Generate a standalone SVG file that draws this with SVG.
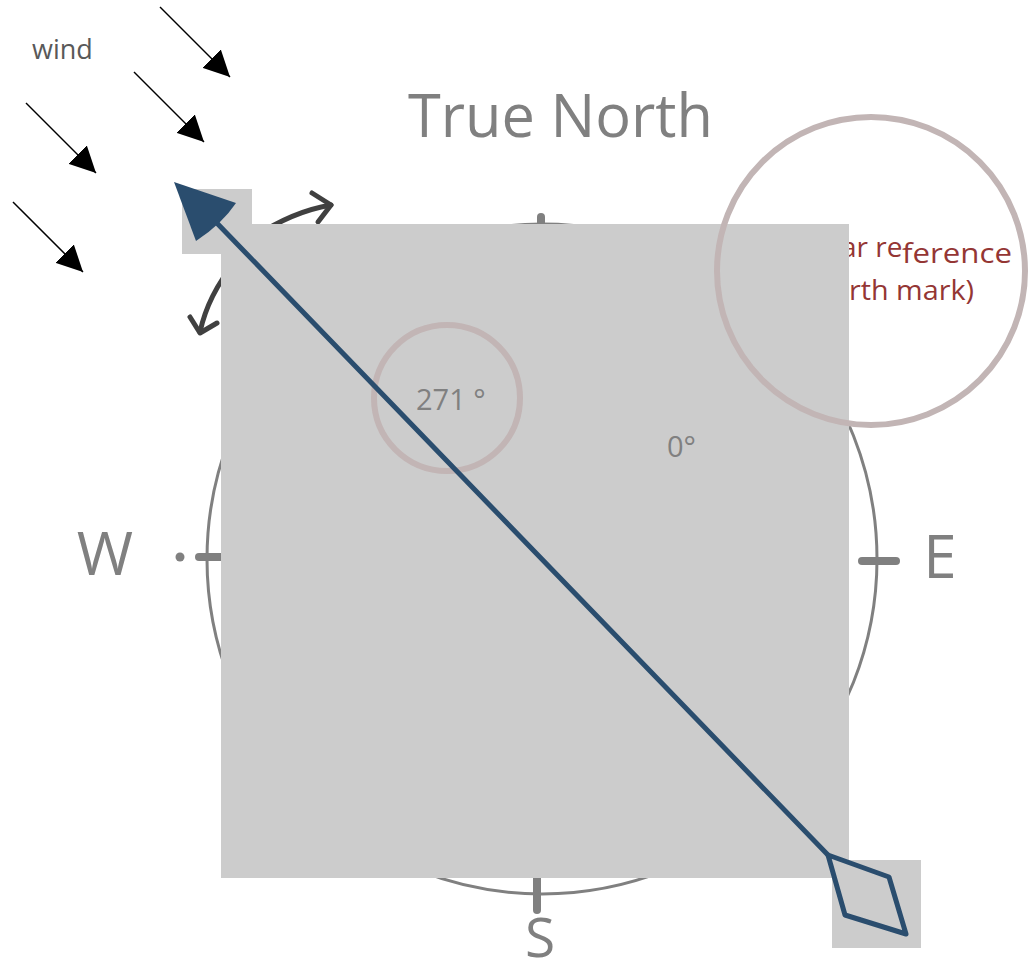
<svg xmlns="http://www.w3.org/2000/svg" width="1028" height="972" viewBox="0 0 1028 972">
  <style>
    .lbl { font-family: "Open Sans", "Liberation Sans", sans-serif; fill: #808080; }
    .tick { stroke: #808080; stroke-width: 8; stroke-linecap: round; fill: none; }
    .wind { stroke: #000; stroke-width: 1.5; fill: none; marker-end: url(#windHead); }
    .rot { stroke: #404040; stroke-width: 5; fill: none; stroke-linecap: round; stroke-linejoin: round; }
    .ring { stroke: #c2b5b5; stroke-width: 6; fill: none; }
    .shade { fill: #cccccc; }
    .red { font-family: "Open Sans", "Liberation Sans", sans-serif; fill: #943634; font-size: 28px; }
    .blue { stroke: #2a4d6e; stroke-width: 5; fill: none; stroke-linejoin: round; stroke-linecap: round; }
  </style>
  <defs>
    <marker id="windHead" markerUnits="userSpaceOnUse" markerWidth="26" markerHeight="26" viewBox="0 0 26 26" refX="26" refY="13" orient="auto">
      <path d="M0,0 L26,13 L0,26 Z" fill="#000"/>
    </marker>
  </defs>

  <g id="wind">
    <line class="wind" x1="160" y1="7" x2="230" y2="77"/>
    <line class="wind" x1="134" y1="72" x2="204" y2="142"/>
    <line class="wind" x1="26" y1="103" x2="96" y2="173"/>
    <line class="wind" x1="13" y1="202" x2="83" y2="272"/>
    <text x="32" y="59" font-family="Open Sans, Liberation Sans, sans-serif" font-size="27" fill="#595959">wind</text>
  </g>

  <g id="title">
    <text class="lbl" x="408" y="137" font-size="60" textLength="305" lengthAdjust="spacingAndGlyphs">True North</text>
  </g>

  <g id="compass">
    <circle cx="542" cy="559" r="335" stroke="#808080" stroke-width="3" fill="none"/>
    <line class="tick" x1="541" y1="217" x2="541" y2="245"/>
    <line class="tick" x1="862" y1="561" x2="896" y2="561"/>
    <line class="tick" x1="199" y1="557" x2="235" y2="557"/>
    <circle cx="180" cy="557" r="4.5" fill="#808080"/>
    <line class="tick" x1="537" y1="870" x2="537" y2="910"/>
    <text class="lbl" x="105" y="575" font-size="61" text-anchor="middle">W</text>
    <text class="lbl" x="940" y="578" font-size="60" text-anchor="middle">E</text>
    <text class="lbl" x="540" y="957" font-size="55" text-anchor="middle">S</text>
  </g>

  <g id="reference-text">
    <text class="red" x="841" y="257" font-size="27">ar re</text>
    <text class="red" x="902" y="263" font-size="28" textLength="110" lengthAdjust="spacingAndGlyphs">ference</text>
    <text class="red" x="849" y="300" font-size="28" textLength="125" lengthAdjust="spacingAndGlyphs">rth mark)</text>
  </g>

  <g id="rotation">
    <path class="rot" d="M250,240 Q290,212 331,205"/>
    <path class="rot" d="M312,193 L331,205 L318,222"/>
    <path class="rot" d="M235,262 Q208,295 200,332"/>
    <path class="rot" d="M190,317 L200,333 L217,323"/>
  </g>

  <g id="shading">
    <rect class="shade" x="182" y="189" width="70" height="65"/>
    <rect class="shade" x="221" y="224" width="628" height="654"/>
    <rect class="shade" x="832" y="860" width="89" height="88"/>
  </g>

  <g id="angle-271">
    <circle class="ring" cx="447" cy="398" r="73"/>
    <text class="lbl" x="416" y="410" font-size="29">271 °</text>
  </g>

  <g id="angle-0">
    <text class="lbl" x="667" y="457" font-size="29">0°</text>
  </g>

  <g id="reference-ring">
    <circle class="ring" cx="871" cy="271" r="154"/>
  </g>

  <g id="connectors">
    <line class="blue" x1="828" y1="855" x2="212" y2="218"/>
    <path d="M174,182 L236,203 Q222,224 196,241 Z" fill="#2a4d6e"/>
    <polygon class="blue" points="828,855 889,877 906,934 845,915"/>
  </g>
</svg>
